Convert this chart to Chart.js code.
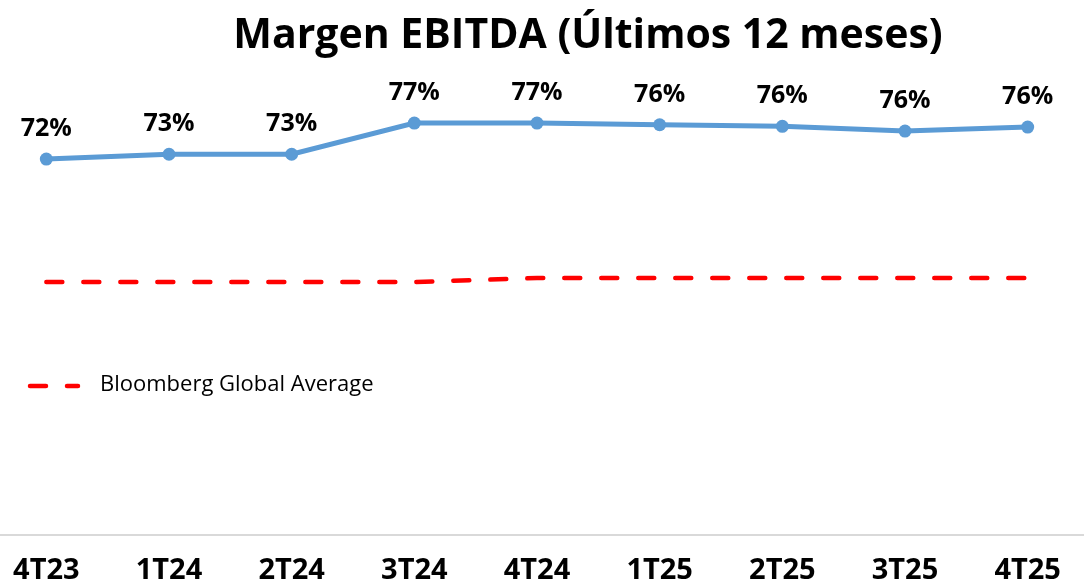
<!DOCTYPE html>
<html>
<head>
<meta charset="utf-8">
<script src="https://cdn.jsdelivr.net/npm/chart.js@4"></script>
<style>
  html, body { margin: 0; padding: 0; background: #fff; overflow: hidden; width: 1084px; height: 585px; }
  /* the reference is cropped: plot area runs a bit past both edges */
  #chart { position: absolute; left: -15px; top: 0; }
</style>
</head>
<body>
<canvas id="chart" width="1104" height="630"></canvas>
<script>
// Datos
const quarters = ['4T23', '1T24', '2T24', '3T24', '4T24', '1T25', '2T25', '3T25', '4T25']
const ebitdaMargin = [72.1, 72.7, 72.7, 76.6, 76.6, 76.4, 76.2, 75.6, 76.1]
const bloombergAvg = [56.7, 56.7, 56.7, 56.7, 57.2, 57.2, 57.2, 57.2, 57.2]
const chartTitle = 'Margen EBITDA (Últimos 12 meses)'
const legendLabel = 'Bloomberg Global Average'

const BLUE = '#5B9BD5'
const RED = '#FF0000'
const FONT = '"Open Sans", "DejaVu Sans", sans-serif'

// Titulo desplazado a la derecha como en el original
const titlePlugin = {
    id: 'customTitle',
    afterDraw(chart) {
        const ctx = chart.ctx
        ctx.save()
        ctx.font = 'bold 41px ' + FONT
        ctx.fillStyle = '#000'
        ctx.textAlign = 'center'
        ctx.textBaseline = 'alphabetic'
        ctx.fillText(chartTitle, chart.width / 2 + 51, 48)
        ctx.restore()
    }
}

// Etiquetas de valor encima de cada punto
const valueLabels = {
    id: 'valueLabels',
    afterDatasetsDraw(chart) {
        const ctx = chart.ctx
        const meta = chart.getDatasetMeta(0)
        ctx.save()
        ctx.font = 'bold 25px ' + FONT
        ctx.fillStyle = '#000'
        ctx.textAlign = 'center'
        ctx.textBaseline = 'middle'
        meta.data.forEach((pt, i) => {
            ctx.fillText(Math.round(ebitdaMargin[i]) + '%', pt.x, pt.y - 30)
        })
        ctx.restore()
    }
}

// Leyenda dentro del area del grafico (solo la serie de Bloomberg)
const insideLegend = {
    id: 'insideLegend',
    afterDraw(chart) {
        const ctx = chart.ctx
        const ds = chart.data.datasets[1]
        const x0 = 43, y0 = 386
        ctx.save()
        ctx.strokeStyle = ds.borderColor
        ctx.lineWidth = ds.borderWidth
        ctx.lineCap = 'round'
        ctx.setLineDash(ds.borderDash)
        ctx.beginPath()
        ctx.moveTo(x0 + 2, y0)
        ctx.lineTo(x0 + 50, y0)
        ctx.stroke()
        ctx.setLineDash([])
        ctx.font = '22px ' + FONT
        ctx.fillStyle = '#000'
        ctx.textAlign = 'left'
        ctx.textBaseline = 'middle'
        ctx.fillText(ds.label, x0 + 72, y0 - 1)
        ctx.restore()
    }
}

new Chart(document.getElementById('chart'), {
    type: 'line',
    data: {
        labels: quarters,
        datasets: [
            {
                label: 'Margen EBITDA',
                data: ebitdaMargin,
                borderColor: BLUE,
                backgroundColor: BLUE,
                borderWidth: 5,
                pointRadius: 6.5,
                pointBackgroundColor: BLUE,
                pointBorderWidth: 0,
                tension: 0
            },
            {
                label: legendLabel,
                data: bloombergAvg,
                borderColor: RED,
                backgroundColor: RED,
                borderWidth: 4.5,
                borderDash: [16, 21],
                borderCapStyle: 'round',
                pointRadius: 0,
                tension: 0
            }
        ]
    },
    options: {
        responsive: false,
        animation: false,
        layout: {
            autoPadding: false,
            padding: { top: 80, bottom: 24, left: 0, right: 0 }
        },
        plugins: {
            legend: { display: false },
            title: { display: false },
            tooltip: { enabled: false }
        },
        scales: {
            x: {
                offset: true,
                grid: { display: false, drawTicks: false },
                border: { display: true, color: '#D9D9D9', width: 2 },
                ticks: {
                    color: '#000',
                    padding: 18,
                    maxRotation: 0,
                    autoSkip: false,
                    font: { family: FONT, size: 29, weight: 'bold' }
                }
            },
            y: {
                display: false,
                min: 25,
                max: 82
            }
        }
    },
    plugins: [titlePlugin, valueLabels, insideLegend]
})
</script>
</body>
</html>
